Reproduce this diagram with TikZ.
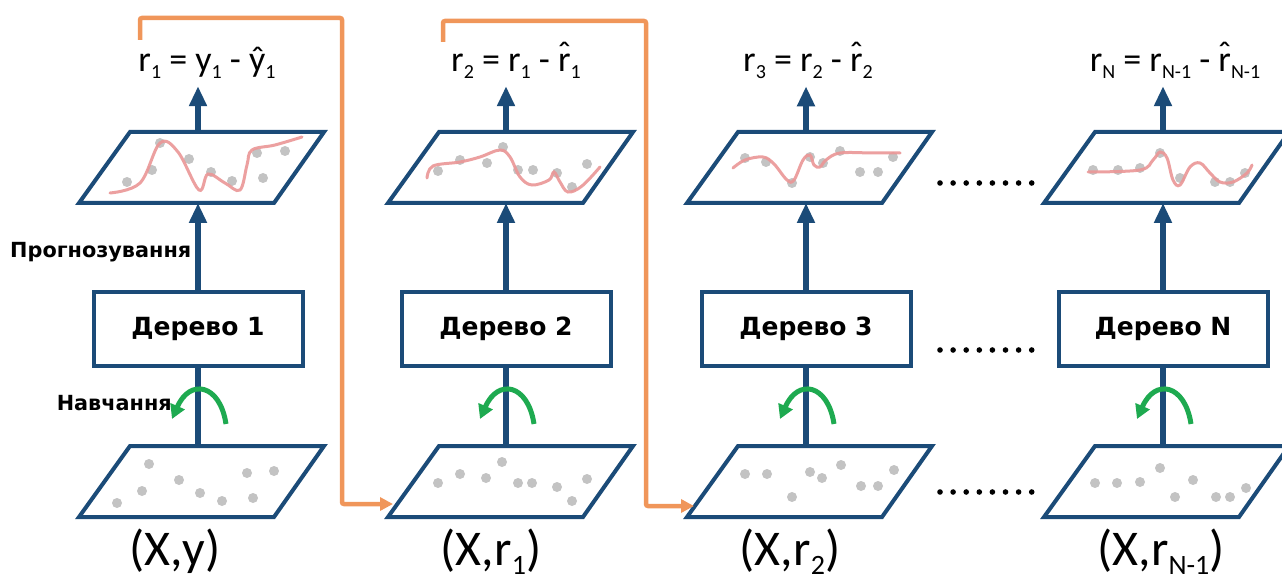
\documentclass[tikz,border=0pt]{standalone}
\usepackage{fontspec}
\setmainfont{Carlito}
\newfontfamily\dvfont{DejaVu Sans}
\usetikzlibrary{arrows.meta}
\definecolor{navy}{RGB}{27,75,120}
\definecolor{orng}{RGB}{240,150,90}
\definecolor{grn}{RGB}{30,170,80}
\definecolor{pinkc}{RGB}{235,150,150}
\definecolor{dotc}{RGB}{195,195,195}
\newcommand\sbA[1]{\raisebox{-7pt}{\fontsize{20}{20}\selectfont #1}}
\newcommand\sbB[1]{\raisebox{-9pt}{\fontsize{28}{28}\selectfont #1}}
\newcommand\rhat{\ooalign{r\cr\hidewidth\raisebox{0.16em}{ˆ}\hidewidth\cr}}
\newcommand\gplane[2]{\draw[plane] ({#1-68},#2) -- ({#1+126},#2) -- ({#1+76},{#2+71}) -- ({#1-119},{#2+71}) -- cycle;}
\newcommand\gdot[2]{\fill[dotc] (#1,#2) circle (5pt);}
\newcommand\garc[1]{\draw[garrow] ({#1+28},424) .. controls ({#1+22},384) and ({#1-8},378) .. ({#1-26},419);}
\begin{document}
\begin{tikzpicture}[x=1pt,y=-1pt,
  plane/.style={draw=navy, line width=4pt, fill=white, line join=miter},
  tree/.style={draw=navy, line width=4pt, fill=white, minimum width=209pt, minimum height=74pt, inner sep=0pt,
    font=\dvfont\bfseries\fontsize{25}{25}\selectfont},
  toplab/.style={anchor=base, inner xsep=0pt, inner ysep=7pt, font=\fontsize{36}{36}\selectfont},
  botlab/.style={anchor=base, inner sep=0pt, font=\fontsize{50}{50}\selectfont},
  sidelab/.style={inner sep=0pt, font=\dvfont\bfseries\fontsize{20.8}{20.8}\selectfont},
  barrow/.style={draw=navy, line width=6pt, -{Triangle[length=20pt,width=17pt]}},
  bline/.style={draw=navy, line width=6pt},
  garrow/.style={draw=grn, line width=5pt, -{Triangle[length=14pt,width=15pt]}},
  oarrow/.style={draw=orng, line width=4.5pt, rounded corners=2pt, -{Triangle[length=13pt,width=13pt]}},
  curve/.style={draw=pinkc, line width=3pt, line cap=round, opacity=0.9},
  edot/.style={fill=black}
]
\useasboundingbox (0,0) rectangle (1282,580);

% ---------- column 1 ----------
\gplane{198}{132}
\gdot{160}{143}\gdot{189}{159}\gdot{152}{170}\gdot{127}{182}\gdot{211}{172}
\gdot{232}{181}\gdot{257}{153}\gdot{285}{151}\gdot{263}{178}
\draw[curve] plot[smooth, tension=0.6] coordinates {(110,193) (140,183) (160,143) (178,152) (199,190) (208,174) (225,183) (240,190) (247,165) (252,150) (275,145) (302,137)};
\gplane{198}{446}
\gdot{149}{464}\gdot{179}{480}\gdot{142}{491}\gdot{117}{503}\gdot{200}{493}
\gdot{222}{501}\gdot{247}{473}\gdot{274}{471}\gdot{253}{498}
\node[tree] (t1) at (198,329) {Дерево 1};
\coordinate (pt1) at (198,132);
\coordinate (pb1) at (198,203);
\coordinate (qt1) at (198,446);
\node[toplab] (l1) at (207,72) {r\sbA{1} = y\sbA{1} - \^{y}\sbA{1}};
\node[botlab] (d1) at (175,565) {(X,y)};

% ---------- column 2 ----------
\gplane{507}{132}
\gdot{438}{171}\gdot{460}{160}\gdot{487}{163}\gdot{503}{147}\gdot{518}{170}
\gdot{533}{170}\gdot{557}{173}\gdot{572}{187}\gdot{587}{164}
\draw[curve] plot[smooth, tension=0.6] coordinates {(427,178) (433,166) (460,162) (480,157) (500,150) (510,157) (520,177) (532,185) (549,180) (554,172) (560,182) (568,192) (582,186) (600,167)};
\gplane{507}{446}
\gdot{438}{483}\gdot{460}{474}\gdot{486}{478}\gdot{502}{462}\gdot{518}{483}
\gdot{532}{483}\gdot{557}{487}\gdot{572}{501}\gdot{587}{479}
\node[tree] (t2) at (506,329) {Дерево 2};
\coordinate (pt2) at (506,132);
\coordinate (pb2) at (506,203);
\coordinate (qt2) at (506,446);
\node[toplab] (l2) at (516,72) {r\sbA{2} = r\sbA{1} - \rhat\sbA{1}};
\node[botlab] (d2) at (491,565) {(X,r\sbB{1})};

% ---------- column 3 ----------
\gplane{806}{132}
\gdot{745}{158}\gdot{766}{162}\gdot{792}{183}\gdot{810}{157}\gdot{823}{163}
\gdot{840}{151}\gdot{860}{172}\gdot{878}{172}\gdot{893}{157}
\draw[curve] plot[smooth, tension=0.6] coordinates {(733,168) (745,160) (763,157) (774,164) (787,180) (794,180) (803,160) (810,155) (814,165) (820,167) (826,160) (840,153) (873,153) (900,153)};
\gplane{806}{446}
\gdot{745}{474}\gdot{767}{474}\gdot{810}{472}\gdot{822}{478}\gdot{841}{465}
\gdot{861}{486}\gdot{878}{486}\gdot{894}{470}\gdot{792}{497}
\node[tree] (t3) at (806,329) {Дерево 3};
\coordinate (pt3) at (806,132);
\coordinate (pb3) at (806,203);
\coordinate (qt3) at (806,446);
\node[toplab] (l3) at (808,72) {r\sbA{3} = r\sbA{2} - \rhat\sbA{2}};
\node[botlab] (d3) at (790,565) {(X,r\sbB{2})};

% ---------- column 4 ----------
\gplane{1163}{132}
\gdot{1093}{170}\gdot{1118}{170}\gdot{1140}{168}\gdot{1160}{153}\gdot{1180}{178}
\gdot{1215}{182}\gdot{1230}{182}\gdot{1245}{173}
\draw[curve] plot[smooth, tension=0.6] coordinates {(1088,172) (1140,170) (1153,160) (1160,152) (1167,158) (1173,180) (1180,185) (1190,167) (1200,163) (1210,173) (1220,182) (1233,182) (1247,173) (1252,165)};
\gplane{1163}{446}
\gdot{1095}{483}\gdot{1117}{483}\gdot{1140}{482}\gdot{1160}{468}\gdot{1175}{497}
\gdot{1193}{480}\gdot{1216}{497}\gdot{1230}{497}\gdot{1246}{488}
\node[tree] (t4) at (1163,329) {Дерево N};
\coordinate (pt4) at (1163,132);
\coordinate (pb4) at (1163,203);
\coordinate (qt4) at (1163,446);
\node[toplab] (l4) at (1175,72) {r\sbA{N} = r\sbA{N-1} - \rhat\sbA{N-1}};
\node[botlab] (d4) at (1161,565) {(X,r\sbB{N-1})};

% ---------- blue connectors ----------
\foreach \i in {1,2,3,4} {
  \draw[barrow] (t\i.north) -- (pb\i);
  \draw[barrow] (pt\i) -- (pt\i |- l\i.south);
  \draw[bline] (t\i.south) -- (qt\i);
}
% ---------- green learning arcs ----------
\garc{198}\garc{506}\garc{806}\garc{1163}

% ---------- side labels ----------
\node[sidelab, anchor=west] (prog) at (10,252) {Прогнозування};
\node[sidelab, anchor=east] (navch) at (172,403) {Навчання};

% ---------- orange feedback ----------
\coordinate (os1) at (140,40);
\coordinate (oc1) at (342,18);
\coordinate (oe1) at (393,504);
\coordinate (os2) at (443,42);
\coordinate (oc2) at (646,21);
\coordinate (oe2) at (694,506);
\draw[oarrow] (os1) |- (oc1) |- (oe1);
\draw[oarrow] (os2) |- (oc2) |- (oe2);

% ---------- ellipsis ----------
\foreach \yy in {183,350,492} {
  \foreach \k in {0,...,7} {
    \fill[edot] ({940+\k*13.1},\yy) circle (2.8pt);
  }
}
\end{tikzpicture}
\end{document}
